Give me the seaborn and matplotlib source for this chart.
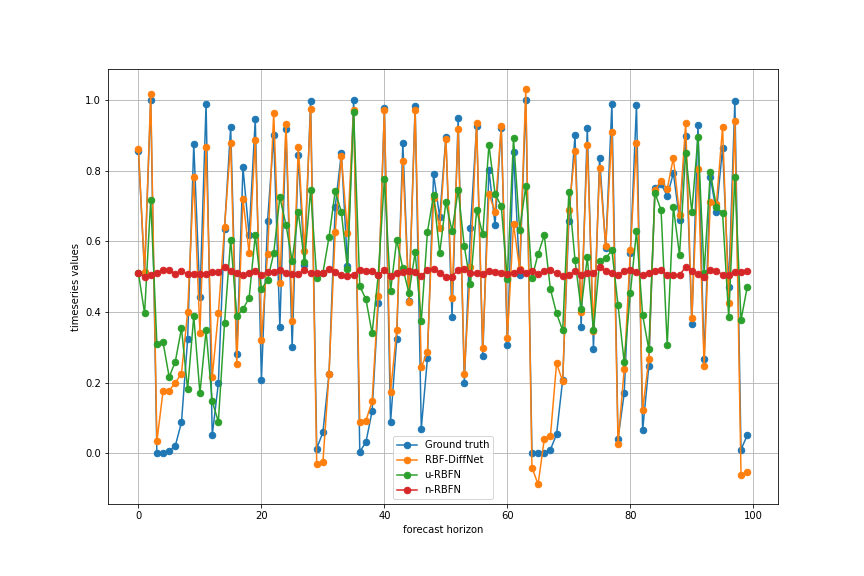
import matplotlib
matplotlib.use("Agg")
import matplotlib.pyplot as plt
import seaborn as sns
import numpy as np

horizon = np.arange(100)

ground_truth = [0.854, 0.51, 1.0, 0.0, 0.0, 0.007, 0.022, 0.088, 0.323, 0.875,
                0.442, 0.989, 0.051, 0.199, 0.635, 0.923, 0.28, 0.809, 0.617, 0.946,
                0.207, 0.657, 0.9, 0.357, 0.918, 0.30, 0.844, 0.532, 0.997, 0.014,
                0.06, 0.226, 0.697, 0.849, 0.53, 1.0, 0.005, 0.032, 0.119, 0.425,
                0.977, 0.088, 0.323, 0.878, 0.43, 0.983, 0.07, 0.269, 0.79, 0.668,
                0.895, 0.385, 0.948, 0.198, 0.637, 0.926, 0.275, 0.802, 0.646, 0.921,
                0.306, 0.853, 0.504, 1.0, 0.0, 0.0, 0.002, 0.011, 0.054, 0.209,
                0.657, 0.9, 0.357, 0.921, 0.295, 0.836, 0.58, 0.989, 0.042, 0.17,
                0.566, 0.986, 0.065, 0.246, 0.751, 0.762, 0.728, 0.793, 0.66, 0.898,
                0.365, 0.929, 0.266, 0.782, 0.683, 0.864, 0.47, 0.997, 0.011, 0.051]

rbf_diffnet = [0.861, 0.513, 1.017, 0.034, 0.176, 0.178, 0.2, 0.226, 0.4, 0.781,
               0.34, 0.867, 0.215, 0.397, 0.64, 0.877, 0.252, 0.72, 0.566, 0.887,
               0.32, 0.564, 0.963, 0.482, 0.932, 0.374, 0.867, 0.572, 0.974, -0.031,
               -0.025, 0.226, 0.626, 0.841, 0.623, 0.972, 0.088, 0.093, 0.147, 0.445,
               0.972, 0.173, 0.348, 0.827, 0.428, 0.972, 0.244, 0.286, 0.722, 0.637,
               0.89, 0.439, 0.918, 0.226, 0.527, 0.934, 0.297, 0.734, 0.683, 0.926,
               0.326, 0.649, 0.521, 1.031, -0.04, -0.087, 0.04, 0.048, 0.255, 0.204,
               0.688, 0.855, 0.399, 0.873, 0.346, 0.807, 0.586, 0.909, 0.028, 0.238,
               0.575, 0.878, 0.122, 0.266, 0.745, 0.771, 0.748, 0.836, 0.674, 0.934,
               0.382, 0.804, 0.246, 0.711, 0.705, 0.923, 0.425, 0.94, -0.06, -0.053]

u_rbfn = [0.511, 0.396, 0.717, 0.309, 0.315, 0.216, 0.26, 0.354, 0.181, 0.388,
          0.17, 0.348, 0.147, 0.09, 0.368, 0.605, 0.388, 0.408, 0.44, 0.617,
          0.465, 0.49, 0.566, 0.725, 0.646, 0.544, 0.683, 0.541, 0.745, 0.496,
          0.51, 0.612, 0.742, 0.683, 0.521, 0.966, 0.473, 0.436, 0.34, 0.504,
          0.776, 0.459, 0.603, 0.524, 0.453, 0.569, 0.374, 0.626, 0.731, 0.567,
          0.711, 0.629, 0.745, 0.586, 0.479, 0.688, 0.62, 0.873, 0.734, 0.7,
          0.493, 0.892, 0.632, 0.756, 0.496, 0.564, 0.617, 0.465, 0.396, 0.348,
          0.739, 0.547, 0.408, 0.555, 0.348, 0.544, 0.552, 0.575, 0.419, 0.258,
          0.453, 0.629, 0.391, 0.295, 0.737, 0.688, 0.306, 0.697, 0.561, 0.85,
          0.683, 0.895, 0.51, 0.796, 0.697, 0.68, 0.385, 0.782, 0.377, 0.47]

n_rbfn = [0.511, 0.498, 0.504, 0.511, 0.518, 0.518, 0.508, 0.516, 0.507, 0.508,
          0.507, 0.507, 0.513, 0.513, 0.527, 0.516, 0.511, 0.504, 0.509, 0.516,
          0.506, 0.514, 0.513, 0.520, 0.511, 0.507, 0.507, 0.520, 0.509, 0.509,
          0.509, 0.523, 0.514, 0.504, 0.503, 0.506, 0.520, 0.516, 0.516, 0.506,
          0.518, 0.503, 0.509, 0.513, 0.516, 0.512, 0.502, 0.520, 0.523, 0.511,
          0.498, 0.500, 0.520, 0.521, 0.511, 0.511, 0.507, 0.517, 0.513, 0.511,
          0.507, 0.511, 0.518, 0.511, 0.516, 0.507, 0.516, 0.518, 0.509, 0.502,
          0.504, 0.516, 0.504, 0.511, 0.509, 0.526, 0.516, 0.511, 0.506, 0.516,
          0.518, 0.512, 0.504, 0.511, 0.516, 0.520, 0.504, 0.504, 0.504, 0.528,
          0.516, 0.507, 0.500, 0.520, 0.516, 0.506, 0.504, 0.513, 0.513, 0.515]

series = [("Ground truth", ground_truth, "#1f77b4"),
          ("RBF-DiffNet", rbf_diffnet, "#ff7f0e"),
          ("u-RBFN", u_rbfn, "#2ca02c"),
          ("n-RBFN", n_rbfn, "#d62728")]

fig, ax = plt.subplots(figsize=(12, 8), dpi=72)
fig.subplots_adjust(left=0.125, right=0.9, top=0.88, bottom=0.125)
for name, vals, col in series:
    sns.lineplot(x=horizon, y=vals, ax=ax, color=col, marker="o", markersize=6.5,
                 markeredgecolor=col, markeredgewidth=1, linewidth=1.5, label=name)

ax.grid(True)
ax.set_xlabel("forecast horizon")
ax.set_ylabel("timeseries values")
ax.legend(loc="lower center")
fig.savefig("out.png", dpi=72)
